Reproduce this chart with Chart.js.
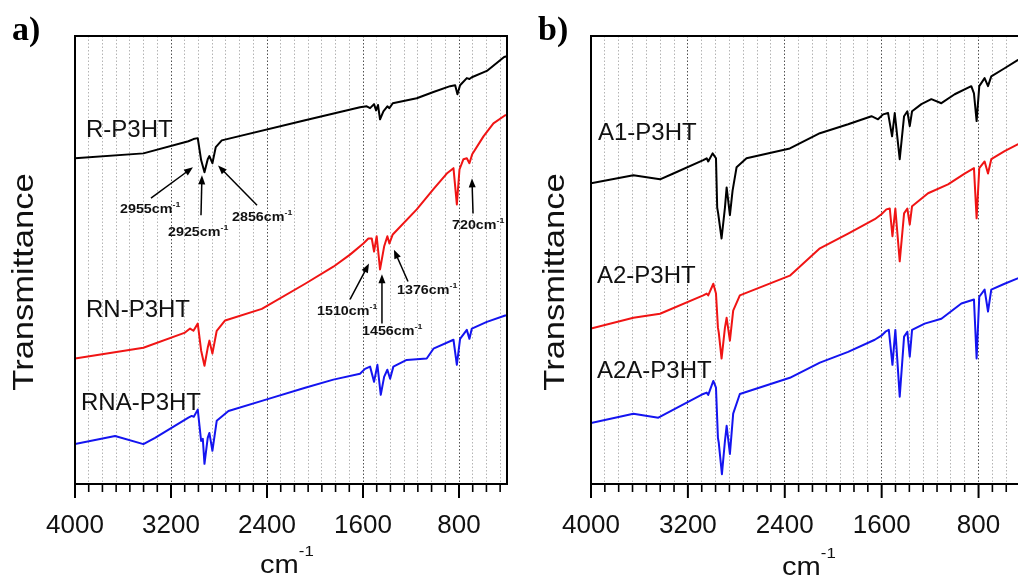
<!DOCTYPE html>
<html>
<head>
<meta charset="utf-8">
<script src="https://cdn.jsdelivr.net/npm/chart.js@4.4.1/dist/chart.umd.min.js"></script>
<style>
html, body { margin: 0; padding: 0; background: #fff; overflow: hidden; }
#wrap { position: relative; width: 1018px; height: 576px; overflow: hidden; font-family: Arial, "Liberation Sans", sans-serif; color: #111; }
canvas { position: absolute; top: 0; }
.t { position: absolute; white-space: nowrap; line-height: 1; }
.curve { font-size: 24px; }
.letter { font-family: "Liberation Serif", "Times New Roman", serif; font-weight: bold; font-size: 34px; color: #000; }
.ytitle { font-size: 30px; transform: translate(-50%, -50%) rotate(-90deg) scaleX(1.15); }
.xtitle { font-size: 26px; transform: scaleX(1.12); transform-origin: left top; }
.xtitle .sp { font-size: 15px; position: relative; top: -17px; }
.peak { font-size: 13px; font-weight: bold; transform: scaleX(1.1); transform-origin: left top; }
.peak .sp { font-size: 8px; position: relative; top: -6px; }
</style>
</head>
<body>
<div id="wrap">
  <canvas id="chartA" width="560" height="576" style="left:0px"></canvas>
  <canvas id="chartB" width="560" height="576" style="left:516px"></canvas>

  <div class="t letter" style="left:12px; top:12px">a)</div>
  <div class="t letter" style="left:538px; top:12px">b)</div>

  <div class="t ytitle" style="left:23px; top:282px">Transmittance</div>
  <div class="t ytitle" style="left:554px; top:282px">Transmittance</div>

  <div class="t xtitle" style="left:260px; top:551px">cm<span class="sp">-1</span></div>
  <div class="t xtitle" style="left:782px; top:553px">cm<span class="sp">-1</span></div>

  <div class="t curve" style="left:86px; top:117px">R-P3HT</div>
  <div class="t curve" style="left:86px; top:297px">RN-P3HT</div>
  <div class="t curve" style="left:81px; top:390px">RNA-P3HT</div>
  <div class="t curve" style="left:598px; top:120px">A1-P3HT</div>
  <div class="t curve" style="left:597px; top:263px">A2-P3HT</div>
  <div class="t curve" style="left:597px; top:358px">A2A-P3HT</div>
</div>

<script>
// x axis: wavenumber (cm-1), reversed; labelled ticks every 800, 6 minor ticks between
const tickLabels = [4000, 3200, 2400, 1600, 800];
const minorPerMajor = 7;

// panel a spectra (arbitrary transmittance units, offset stacked)
const rWn = [4000, 3430, 3055, 3013, 2977, 2949, 2921, 2894, 2880, 2855, 2827, 2777, 2082, 1625, 1569, 1541, 1508, 1491, 1475, 1458, 1430, 1397, 1380, 1352, 1152, 1013, 874, 832, 813, 791, 735, 713, 693, 568, 424, 400];
const rT = [72.7, 73.8, 76.5, 77.0, 77.2, 72.3, 69.6, 72.5, 73.2, 71.6, 75.2, 76.7, 81.2, 84.1, 84.3, 83.9, 84.8, 83.4, 84.6, 81.4, 83.2, 84.3, 83.9, 85.0, 86.1, 87.5, 88.8, 89.0, 87.0, 89.0, 90.6, 90.4, 90.8, 92.2, 95.3, 95.5];

const rnWn = [4000, 3430, 3083, 3041, 3013, 2977, 2949, 2921, 2894, 2880, 2855, 2819, 2749, 2443, 2082, 1847, 1708, 1597, 1555, 1527, 1508, 1486, 1458, 1424, 1397, 1380, 1352, 1152, 1013, 902, 846, 818, 796, 763, 735, 713, 690, 596, 513, 415, 400];
const rnT = [28.0, 30.4, 33.8, 34.7, 34.2, 35.8, 29.8, 26.4, 30.4, 32.0, 29.1, 34.2, 36.5, 39.1, 44.7, 48.5, 51.2, 53.7, 54.8, 54.8, 51.9, 55.3, 47.9, 53.0, 55.3, 53.7, 55.7, 61.3, 65.8, 69.3, 70.5, 62.4, 70.2, 72.5, 72.7, 71.6, 73.6, 77.6, 80.5, 82.3, 82.3];

const rnaWn = [4000, 3666, 3430, 3333, 3055, 3027, 3010, 2977, 2949, 2935, 2921, 2894, 2880, 2855, 2819, 2721, 2388, 2082, 1847, 1625, 1583, 1541, 1508, 1480, 1452, 1424, 1397, 1374, 1347, 1236, 1069, 1013, 846, 818, 791, 735, 713, 693, 568, 415, 400];
const rnaT = [8.9, 10.7, 8.9, 10.3, 14.8, 15.2, 15.0, 16.6, 9.6, 10.1, 4.5, 10.3, 11.4, 7.4, 14.1, 16.3, 19.0, 21.5, 23.3, 24.6, 25.7, 26.2, 22.8, 26.6, 19.9, 23.9, 25.5, 23.5, 26.2, 27.7, 28.0, 30.2, 32.2, 26.6, 32.4, 34.4, 32.4, 34.7, 36.2, 37.6, 37.6];

// panel b spectra
const a1Wn = [4000, 3650, 3430, 3320, 3073, 3045, 3032, 2996, 2968, 2958, 2950, 2922, 2894, 2880, 2853, 2831, 2798, 2716, 2358, 2110, 1877, 1684, 1630, 1588, 1547, 1514, 1492, 1451, 1415, 1388, 1368, 1349, 1272, 1190, 1107, 997, 860, 838, 816, 794, 750, 722, 695, 585, 477, 400];
const a1T = [67.1, 68.9, 68.0, 69.3, 72.3, 72.7, 72.0, 73.8, 72.7, 61.7, 60.4, 54.8, 61.7, 66.2, 60.0, 65.5, 70.7, 72.7, 74.9, 78.3, 80.3, 82.1, 81.4, 82.5, 82.8, 77.6, 82.8, 72.5, 82.1, 83.2, 79.9, 83.2, 84.8, 85.9, 85.0, 87.0, 88.8, 87.2, 81.0, 88.8, 90.6, 88.8, 91.0, 92.8, 94.6, 95.5];

const a2Wn = [4000, 3650, 3430, 3073, 3045, 3032, 2990, 2968, 2952, 2945, 2922, 2894, 2880, 2853, 2826, 2771, 2358, 2110, 1877, 1657, 1602, 1561, 1533, 1511, 1487, 1451, 1415, 1388, 1368, 1349, 1217, 1052, 915, 838, 816, 794, 750, 722, 695, 585, 477, 400];
const a2T = [34.7, 37.1, 38.0, 42.1, 42.5, 42.1, 44.7, 42.5, 34.9, 33.8, 28.0, 34.9, 37.1, 32.0, 38.7, 42.1, 46.5, 52.6, 55.9, 59.1, 60.2, 61.3, 61.5, 55.3, 61.5, 49.7, 60.4, 61.5, 57.9, 62.0, 64.9, 66.9, 69.3, 70.5, 59.3, 70.5, 72.0, 69.3, 72.5, 74.3, 75.8, 76.7];

const a2aWn = [4000, 3650, 3444, 3073, 3045, 3032, 2990, 2968, 2952, 2945, 2919, 2894, 2880, 2853, 2826, 2771, 2358, 2110, 1877, 1657, 1602, 1569, 1541, 1511, 1487, 1451, 1415, 1388, 1368, 1349, 1245, 1107, 942, 838, 816, 794, 750, 722, 695, 585, 477, 400];
const a2aT = [13.6, 15.7, 14.8, 20.1, 20.4, 19.9, 23.0, 21.5, 10.3, 9.2, 2.2, 9.6, 13.0, 6.7, 15.7, 20.1, 23.7, 27.1, 29.5, 32.2, 33.1, 34.0, 34.4, 26.6, 34.4, 19.5, 32.9, 34.0, 28.4, 34.4, 35.8, 36.9, 40.3, 41.2, 28.0, 41.8, 43.4, 38.5, 43.4, 44.7, 45.9, 46.5];

// peak annotations in panel a: label anchor, arrow tail, arrow tip (wavenumber, T)
const peakNotes = [
  { name: '2955', text: [3625, 60.4], tail: [3367, 63.8], tip: [3017, 70.7] },
  { name: '2925', text: [3225, 55.3], tail: [2950, 60.0], tip: [2942, 68.9] },
  { name: '2856', text: [2692, 58.6], tail: [2483, 62.2], tip: [2808, 71.1] },
  { name: '1510', text: [1983, 37.8], tail: [1708, 41.2], tip: [1550, 49.2] },
  { name: '1456', text: [1608, 33.3], tail: [1442, 35.8], tip: [1442, 46.8] },
  { name: '1376', text: [1317, 42.3], tail: [1225, 45.2], tip: [1342, 52.3] },
  { name: '720', text: [858, 57.0], tail: [683, 60.4], tip: [692, 68.2] }
];

const BLACK = '#000000', RED = '#f01414', BLUE = '#1414f0';

function toPoints(wn, t) {
  return wn.map((w, i) => ({ x: w, y: t[i] }));
}

function isMajor(v) {
  return tickLabels.includes(Math.round(v));
}

function drawArrow(ctx, x1, y1, x2, y2) {
  const a = Math.atan2(y2 - y1, x2 - x1);
  const h = 9, w = 3.5;
  ctx.beginPath();
  ctx.moveTo(x1, y1);
  ctx.lineTo(x2 - Math.cos(a) * h * 0.7, y2 - Math.sin(a) * h * 0.7);
  ctx.stroke();
  ctx.beginPath();
  ctx.moveTo(x2, y2);
  ctx.lineTo(x2 - h * Math.cos(a) + w * Math.sin(a), y2 - h * Math.sin(a) - w * Math.cos(a));
  ctx.lineTo(x2 - h * Math.cos(a) - w * Math.sin(a), y2 - h * Math.sin(a) + w * Math.cos(a));
  ctx.closePath();
  ctx.fill();
}

// frame, outward tick marks and annotation arrows
const axisDecor = {
  id: 'axisDecor',
  afterDraw(chart, args, opts) {
    const { ctx, chartArea: { left, right, top, bottom }, scales: { x, y } } = chart;
    ctx.save();
    ctx.strokeStyle = '#000';
    ctx.fillStyle = '#000';
    x.ticks.forEach(t => {
      const px = x.getPixelForValue(t.value);
      const major = isMajor(t.value);
      ctx.lineWidth = major ? 2 : 1.6;
      ctx.beginPath();
      ctx.moveTo(px, bottom);
      ctx.lineTo(px, bottom + (major ? 14 : 8));
      ctx.stroke();
    });
    ctx.lineWidth = 2;
    ctx.strokeRect(left, top, right - left, bottom - top);
    ctx.lineWidth = 1.5;
    (opts.notes || []).forEach(n => {
      drawArrow(ctx,
        x.getPixelForValue(n.tail[0]), y.getPixelForValue(n.tail[1]),
        x.getPixelForValue(n.tip[0]), y.getPixelForValue(n.tip[1]));
    });
    ctx.restore();
  }
};

function makePanel(canvasId, padRight, series, notes) {
  const tickValues = [];
  for (let k = 0; 4000 - k * 800 / minorPerMajor >= 400; k++) {
    tickValues.push(4000 - k * 800 / minorPerMajor);
  }
  return new Chart(document.getElementById(canvasId), {
    type: 'line',
    data: {
      datasets: series.map(s => ({
        label: s.label,
        data: toPoints(s.wn, s.t),
        borderColor: s.color,
        borderWidth: 2,
        pointRadius: 0,
        tension: 0,
        fill: false,
        borderJoinStyle: 'round'
      }))
    },
    options: {
      responsive: false,
      animation: false,
      events: [],
      layout: { padding: { left: 75, right: padRight, top: 36, bottom: 0 } },
      plugins: {
        legend: { display: false },
        tooltip: { enabled: false },
        axisDecor: { notes: notes }
      },
      scales: {
        x: {
          type: 'linear',
          reverse: true,
          min: 400,
          max: 4000,
          afterBuildTicks: axis => { axis.ticks = tickValues.map(v => ({ value: v })); },
          afterFit: axis => { axis.height = 92; },
          ticks: {
            autoSkip: false,
            maxRotation: 0,
            padding: 14,
            color: '#111',
            font: { family: 'Arial, "Liberation Sans", sans-serif', size: 26 },
            callback: v => isMajor(v) ? String(Math.round(v)) : ''
          },
          grid: {
            color: c => isMajor(c.tick.value) ? '#505050' : '#b4b4b4',
            lineWidth: 1,
            drawTicks: true,
            tickLength: 12,
            tickColor: 'rgba(0,0,0,0)'
          },
          border: { display: false, dash: [1.5, 2] }
        },
        y: { display: false, min: 0, max: 100 }
      }
    },
    plugins: [axisDecor]
  });
}

const chartA = makePanel('chartA', 53, [
  { label: 'R-P3HT', wn: rWn, t: rT, color: BLACK },
  { label: 'RN-P3HT', wn: rnWn, t: rnT, color: RED },
  { label: 'RNA-P3HT', wn: rnaWn, t: rnaT, color: BLUE }
], peakNotes);

makePanel('chartB', 49, [
  { label: 'A1-P3HT', wn: a1Wn, t: a1T, color: BLACK },
  { label: 'A2-P3HT', wn: a2Wn, t: a2T, color: RED },
  { label: 'A2A-P3HT', wn: a2aWn, t: a2aT, color: BLUE }
], []);

// peak labels as page text, anchored through panel a's scales
const wrap = document.getElementById('wrap');
peakNotes.forEach(n => {
  const d = document.createElement('div');
  d.className = 't peak';
  d.innerHTML = n.name + 'cm<span class="sp">-1</span>';
  const px = chartA.scales.x.getPixelForValue(n.text[0]);
  const py = chartA.scales.y.getPixelForValue(n.text[1]);
  d.style.left = px + 'px';
  d.style.top = (py - 11) + 'px';
  wrap.appendChild(d);
});
</script>
</body>
</html>
